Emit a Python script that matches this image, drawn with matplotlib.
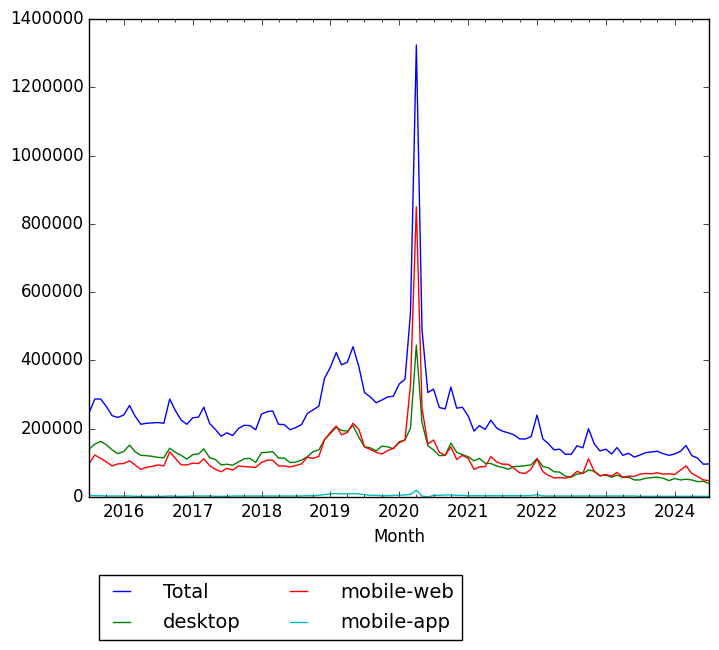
import matplotlib
matplotlib.use("Agg")
import matplotlib.pyplot as plt
import matplotlib.dates as mdates
import matplotlib.ticker as mticker
import pandas as pd
import numpy as np

plt.style.use('classic')
plt.rcParams['figure.facecolor'] = 'white'
plt.rcParams['savefig.facecolor'] = 'white'
plt.rcParams['font.family'] = ['DejaVu Sans']

months = pd.date_range('2015-07-01', '2024-07-01', freq='MS')

total_k = [246, 287, 287, 265, 238, 233, 240, 268, 237, 213, 216, 217,
           218, 216, 287, 253, 225, 213, 232, 234, 263, 215, 198, 178,
           188, 180, 201, 210, 209, 197, 243, 250, 252, 213, 212, 197,
           203, 212, 245, 255, 266, 348, 380, 423, 387, 395, 440, 382,
           306, 293, 276, 284, 293, 295, 331, 345, 540, 1324, 490, 306,
           316, 262, 258, 322, 260, 263, 237, 193, 209, 198, 225, 202,
           193, 188, 182, 170, 170, 177, 240, 170, 157, 138, 140, 125,
           125, 150, 144, 200, 155, 135, 140, 126, 145, 122, 128, 117,
           123, 130, 132, 134, 127, 122, 126, 134, 151, 121, 114, 96, 97]

desktop_k = [140, 155, 163, 153, 138, 127, 133, 152, 133, 122, 121, 119,
             116, 115, 143, 131, 122, 111, 124, 126, 141, 115, 110, 94,
             96, 93, 103, 112, 113, 101, 130, 131, 133, 114, 114, 101,
             102, 108, 118, 133, 138, 168, 186, 204, 195, 193, 209, 175,
             147, 144, 135, 149, 147, 141, 162, 167, 202, 445, 218, 150,
             138, 121, 122, 158, 131, 124, 118, 106, 113, 99, 98, 91,
             87, 81, 89, 90, 92, 94, 113, 89, 86, 74, 73, 61,
             58, 67, 69, 79, 76, 62, 64, 58, 64, 57, 58, 50,
             50, 55, 57, 58, 55, 48, 54, 50, 52, 50, 45, 46, 40]

mobile_web_k = [97, 123, 113, 103, 91, 97, 98, 106, 94, 81, 87, 90,
                94, 91, 132, 113, 94, 94, 99, 98, 112, 92, 81, 74,
                84, 79, 91, 89, 88, 87, 101, 108, 108, 91, 91, 88,
                92, 97, 117, 113, 119, 168, 189, 208, 182, 189, 216, 198,
                147, 139, 131, 126, 136, 143, 159, 167, 330, 850, 260, 155,
                167, 131, 122, 147, 110, 122, 113, 81, 88, 89, 118, 103,
                96, 96, 84, 71, 69, 82, 111, 74, 64, 56, 57, 55,
                60, 75, 69, 112, 74, 62, 66, 61, 72, 58, 61, 60,
                67, 69, 68, 71, 67, 68, 66, 79, 91, 69, 60, 50, 48]

mobile_app_k = [5, 4, 4, 3, 3, 3, 3, 3, 2, 2, 2, 2,
                2, 2, 3, 2, 2, 2, 3, 3, 3, 3, 2, 2,
                2, 3, 3, 3, 3, 3, 3, 3, 3, 3, 3, 3,
                3, 3, 4, 4, 5, 7, 9, 10, 9, 9, 10, 9,
                7, 5, 5, 4, 4, 5, 5, 6, 8, 20, 3, 0,
                5, 5, 6, 6, 5, 5, 4, 4, 4, 4, 4, 4,
                4, 4, 4, 4, 4, 4, 7, 3, 3, 3, 3, 3,
                3, 3, 3, 3, 3, 3, 3, 3, 3, 3, 3, 3,
                2, 2, 2, 2, 2, 2, 2, 2, 2, 2, 2, 2, 2]

series = [("Total", total_k, 'b'), ("desktop", desktop_k, 'g'),
          ("mobile-web", mobile_web_k, 'r'), ("mobile-app", mobile_app_k, 'c')]

fig = plt.figure(figsize=(7.19, 6.5), dpi=100)
ax = fig.add_axes([89/719, 1-497/650, 620/719, 478/650])

for name, vals, col in series:
    ax.plot(months, np.array(vals) * 1000, color=col, lw=1.0, label=name)

ax.set_xlim(pd.Timestamp('2015-07-01'), pd.Timestamp('2024-07-01'))
ax.set_ylim(0, 1400000)
ax.yaxis.set_major_locator(mticker.MultipleLocator(200000))
ax.yaxis.set_major_formatter(mticker.FuncFormatter(lambda v, p: f"{int(v)}"))
ax.xaxis.set_major_locator(mdates.YearLocator())
ax.xaxis.set_major_formatter(mdates.DateFormatter('%Y'))
ax.xaxis.set_minor_locator(mdates.MonthLocator(bymonth=[1, 4, 7, 10]))
ax.tick_params(axis='both', labelsize=12)
ax.set_xlabel('Month', fontsize=12)

fig.legend(loc='upper left', bbox_to_anchor=(99/719, 1-575/650), ncol=2,
           fontsize=14, frameon=True, fancybox=False, handlelength=1.5,
           handletextpad=1.4, columnspacing=2.2, labelspacing=0.6,
           borderaxespad=0, bbox_transform=fig.transFigure)

fig.savefig('out.png', dpi=100)
